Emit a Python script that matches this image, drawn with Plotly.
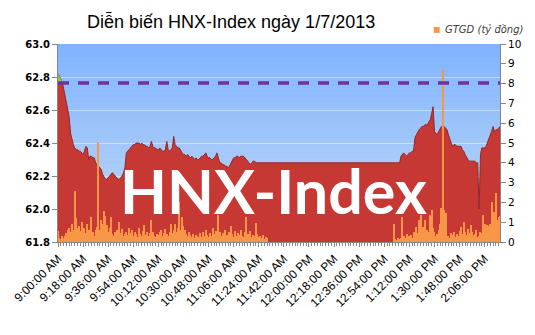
import plotly.graph_objects as go

# ---- data (one value per minute, 9:00 AM -> 2:17 PM) ----
index_values = [
    62.82, 62.80, 62.78, 62.77, 62.73, 62.69, 62.66, 62.61, 62.56, 62.46,
    62.42, 62.39, 62.37, 62.36, 62.36, 62.35, 62.35, 62.34, 62.33, 62.35,
    62.38, 62.37, 62.30, 62.32, 62.32, 62.31, 62.31, 62.28, 62.27, 62.26,
    62.25, 62.24, 62.21, 62.19, 62.18, 62.18, 62.19, 62.20, 62.21, 62.22,
    62.21, 62.20, 62.19, 62.18, 62.18, 62.19, 62.20, 62.22, 62.25, 62.34,
    62.35, 62.36, 62.37, 62.38, 62.39, 62.39, 62.40, 62.40, 62.40, 62.39,
    62.40, 62.39, 62.39, 62.38, 62.38, 62.37, 62.38, 62.41, 62.38, 62.37,
    62.37, 62.36, 62.36, 62.37, 62.36, 62.35, 62.35, 62.36, 62.41, 62.36,
    62.35, 62.36, 62.37, 62.44, 62.39, 62.38, 62.37, 62.37, 62.35, 62.34,
    62.33, 62.33, 62.32, 62.33, 62.32, 62.31, 62.32, 62.31, 62.30, 62.31,
    62.30, 62.30, 62.31, 62.32, 62.32, 62.33, 62.34, 62.32, 62.31, 62.31,
    62.30, 62.30, 62.31, 62.32, 62.34, 62.30, 62.28, 62.28, 62.27, 62.27,
    62.26, 62.26, 62.25, 62.26, 62.28, 62.30, 62.31, 62.31, 62.32, 62.32,
    62.31, 62.32, 62.32, 62.32, 62.31, 62.30, 62.29, 62.28, 62.27, 62.28,
    62.29, 62.29, 62.28, 62.28, 62.28, 62.28, 62.28, 62.28, 62.28, 62.28,
    62.28, 62.28, 62.28, 62.28, 62.28, 62.28, 62.28, 62.28, 62.28, 62.28,
    62.28, 62.28, 62.28, 62.28, 62.28, 62.28, 62.28, 62.28, 62.28, 62.28,
    62.28, 62.28, 62.28, 62.28, 62.28, 62.28, 62.28, 62.28, 62.28, 62.28,
    62.28, 62.28, 62.28, 62.28, 62.28, 62.28, 62.28, 62.28, 62.28, 62.28,
    62.28, 62.28, 62.28, 62.28, 62.28, 62.28, 62.28, 62.28, 62.28, 62.28,
    62.28, 62.28, 62.28, 62.28, 62.28, 62.28, 62.28, 62.28, 62.28, 62.28,
    62.28, 62.28, 62.28, 62.28, 62.28, 62.28, 62.28, 62.28, 62.28, 62.28,
    62.28, 62.28, 62.28, 62.28, 62.28, 62.28, 62.28, 62.28, 62.28, 62.28,
    62.28, 62.28, 62.28, 62.28, 62.28, 62.28, 62.28, 62.28, 62.28, 62.28,
    62.28, 62.28, 62.28, 62.28, 62.28, 62.28, 62.32, 62.33, 62.34, 62.33,
    62.32, 62.33, 62.34, 62.34, 62.35, 62.35, 62.43, 62.45, 62.47, 62.48,
    62.49, 62.50, 62.50, 62.51, 62.51, 62.51, 62.53, 62.54, 62.58, 62.62,
    62.47, 62.46, 62.45, 62.47, 62.49, 62.50, 62.50, 62.50, 62.49, 62.48,
    62.45, 62.42, 62.40, 62.38, 62.39, 62.39, 62.38, 62.38, 62.38, 62.38,
    62.36, 62.35, 62.33, 62.31, 62.30, 62.29, 62.29, 62.29, 62.29, 62.29,
    62.28, 62.28, 62.00, 62.33, 62.37, 62.37, 62.37, 62.38, 62.40, 62.42,
    62.44, 62.47, 62.50, 62.47, 62.48, 62.48, 62.49, 62.50,
]

gtgd_values = [
    0.55, 0.2, 0.15, 0.3, 0.2, 0.3, 0.45, 0.6, 0.7, 0.5,
    0.9, 0.6, 2.6, 1.2, 0.7, 0.8, 0.55, 1.0, 0.6, 0.7,
    0.45, 0.9, 0.6, 0.4, 1.26, 0.5, 0.3, 0.6, 0.75, 5.05,
    0.6, 1.1, 0.9, 1.57, 1.3, 0.85, 0.5, 0.7, 1.26, 0.4,
    0.3, 0.5, 0.6, 0.35, 1.0, 0.45, 0.67, 0.3, 0.4, 0.5,
    0.35, 0.72, 0.45, 0.6, 0.3, 0.5, 0.42, 0.25, 0.7, 0.4,
    0.3, 0.55, 0.85, 0.35, 0.5, 0.3, 0.45, 1.1, 0.5, 0.3,
    0.25, 0.4, 0.35, 0.5, 0.6, 0.3, 0.45, 0.65, 0.4, 0.3,
    0.5, 0.9, 0.45, 0.6, 0.9, 0.5, 0.7, 2.0, 0.6, 1.26,
    0.8, 0.6, 0.4, 0.3, 0.5, 0.33, 0.25, 0.4, 0.2, 0.35,
    0.3, 0.25, 0.45, 0.25, 0.5, 0.3, 0.6, 0.35, 0.25, 0.45,
    0.3, 0.7, 0.4, 0.55, 0.35, 1.36, 0.5, 0.3, 0.45, 0.25,
    0.6, 0.35, 0.3, 0.5, 0.8, 0.4, 0.25, 0.55, 0.3, 0.45,
    0.35, 0.6, 0.3, 0.25, 0.5, 1.28, 0.4, 0.3, 0.55, 0.25,
    0.35, 0.3, 0.95, 0.4, 0.25, 0.3, 0.2, 0.35, 0.15, 0.25,
    0.2, 0, 0, 0, 0, 0, 0, 0, 0, 0,
    0, 0, 0, 0, 0, 0, 0, 0, 0, 0,
    0, 0, 0, 0, 0, 0, 0, 0, 0, 0,
    0, 0, 0, 0, 0, 0, 0, 0, 0, 0,
    0, 0, 0, 0, 0, 0, 0, 0, 0, 0,
    0, 0, 0, 0, 0, 0, 0, 0, 0, 0,
    0, 0, 0, 0, 0, 0, 0, 0, 0, 0,
    0, 0, 0, 0, 0, 0, 0, 0, 0, 0,
    0, 0, 0, 0, 0, 0, 0, 0, 0, 0,
    0, 0.9, 0.15, 0.1, 0.2, 0.15, 0.2, 1.25, 0.3, 0.2,
    0.4, 0.25, 0.3, 0.35, 0.2, 0.5, 0.3, 0.75, 0.45, 1.1,
    1.35, 0.5, 0.75, 1.1, 0.4, 0.6, 0.5, 1.35, 1.6, 0.7,
    0.5, 0.3, 0.4, 0.6, 0.9, 1.7, 8.7, 1.6, 1.45, 0.25,
    0.3, 0.2, 0.45, 0.35, 0.5, 0.25, 0.4, 0.3, 0.55, 0.75,
    0.4, 1.0, 0.5, 0.35, 0.65, 0.45, 0.85, 0.5, 0.35, 0.4,
    0.6, 0.25, 0.3, 0.5, 0.45, 1.35, 0.9, 0.6, 0.85, 0.8,
    0.9, 2.0, 1.2, 1.5, 2.5, 1.1, 1.25, 1.3,
]

minutes = list(range(len(index_values)))  # minutes after 9:00 AM

tick_minutes = [0, 18, 36, 54, 72, 90, 108, 126, 144, 162, 180,
                198, 216, 234, 252, 270, 288, 306]
tick_labels = ["9:00:00 AM", "9:18:00 AM", "9:36:00 AM", "9:54:00 AM",
               "10:12:00 AM", "10:30:00 AM", "10:48:00 AM", "11:06:00 AM",
               "11:24:00 AM", "11:42:00 AM", "12:00:00 PM", "12:18:00 PM",
               "12:36:00 PM", "12:54:00 PM", "1:12:00 PM", "1:30:00 PM",
               "1:48:00 PM", "2:06:00 PM"]

reference_index = 62.764   # dashed reference level
title_text = "Diễn biến HNX-Index ngày 1/7/2013"
legend_text = "GTGD (tỷ đồng)"

# ---- figure ----
fig = go.Figure()

# red area
fig.add_trace(go.Scatter(
    x=minutes, y=index_values, mode="lines", fill="tozeroy",
    fillcolor="rgb(198,56,52)",
    line=dict(color="rgb(150,38,36)", width=1),
    yaxis="y", showlegend=False, hoverinfo="skip"))

# green part above reference
above_x = [m for m, v in zip(minutes, index_values) if v >= reference_index]
above_y = [v for v in index_values if v >= reference_index]
if above_x:
    fig.add_trace(go.Scatter(x=above_x, y=[reference_index] * len(above_x),
                             mode="lines", line=dict(width=0),
                             showlegend=False, hoverinfo="skip"))
    fig.add_trace(go.Scatter(x=above_x, y=above_y, mode="lines",
                             fill="tonexty", fillcolor="rgb(155,200,70)",
                             line=dict(color="rgb(120,160,50)", width=1),
                             showlegend=False, hoverinfo="skip"))

# orange bars
fig.add_trace(go.Bar(
    x=minutes, y=gtgd_values, yaxis="y2", width=0.75,
    marker=dict(color="rgb(247,150,70)", line=dict(width=0)),
    showlegend=False, hoverinfo="skip"))

# gradient background stripes
shapes = []
n = 40
top = (127, 179, 255)
bot = (195, 218, 242)
for k in range(n):
    t = (k + 0.5) / n
    c = tuple(int(round(top[j] + (bot[j] - top[j]) * t)) for j in range(3))
    shapes.append(dict(type="rect", xref="x domain", yref="y domain",
                       x0=0, x1=1, y0=1 - (k + 1) / n, y1=1 - k / n,
                       fillcolor="rgb(%d,%d,%d)" % c, line=dict(width=0),
                       layer="below"))

# dashed reference line
shapes.append(dict(type="line", xref="x domain", yref="y",
                   x0=0, x1=1, y0=reference_index, y1=reference_index,
                   line=dict(color="rgb(112,48,160)", width=3.5,
                             dash="11px,9px")))

# legend marker
shapes.append(dict(type="rect", xref="paper", yref="paper",
                   x0=0.850, x1=0.8635, y0=1.056, y1=1.086,
                   fillcolor="rgb(247,150,70)", line=dict(width=0)))

fig.update_layout(
    width=535, height=335,
    margin=dict(l=53, r=35, t=44, b=93),
    paper_bgcolor="white",
    plot_bgcolor="rgb(160,198,248)",
    shapes=shapes,
    bargap=0,
    annotations=[
        dict(text=title_text, xref="paper", yref="paper",
             x=(228 - 53) / 447, y=(242 - 22) / 198,
             xanchor="center", yanchor="middle", showarrow=False,
             font=dict(family="Liberation Sans, Arial", size=18,
                       color="black")),
        dict(text="<i>" + legend_text + "</i>", xref="paper", yref="paper",
             x=0.871, y=1.071, xanchor="left", yanchor="middle",
             showarrow=False,
             font=dict(family="DejaVu Sans", size=10, color="rgb(60,60,60)")),
        dict(text="<b>HNX-Index</b>", xref="paper", yref="paper",
             x=0.487, y=0.262, xanchor="center", yanchor="middle",
             showarrow=False,
             font=dict(family="Lato", size=61, color="white")),
    ],
    xaxis=dict(range=[0, len(minutes) - 1], tickmode="array",
               tickvals=tick_minutes, ticktext=tick_labels,
               tickangle=-45, ticks="outside", ticklen=4,
               tickcolor="rgb(134,134,134)",
               minor=dict(dtick=2, tick0=0, ticks="outside", ticklen=3,
                          tickcolor="rgb(134,134,134)"),
               showline=True, linecolor="rgb(134,134,134)",
               showgrid=False, zeroline=False,
               tickfont=dict(family="Liberation Sans, Arial", size=12,
                             color="black")),
    yaxis=dict(range=[61.8, 63.0], dtick=0.2, tick0=61.8, tickformat=".1f",
               ticks="outside", ticklen=5, tickcolor="rgb(134,134,134)",
               showline=True, linecolor="rgb(134,134,134)",
               showgrid=True, gridcolor="rgba(255,255,255,0.45)",
               zeroline=False,
               tickfont=dict(family="DejaVu Sans", size=10, color="black",
                             weight="bold")),
    yaxis2=dict(range=[0, 10], dtick=1, overlaying="y", side="right",
                ticks="outside", ticklen=5, tickcolor="rgb(134,134,134)",
                showline=True, linecolor="rgb(134,134,134)",
                showgrid=False, zeroline=False,
                tickfont=dict(family="DejaVu Sans", size=10.5,
                              color="black")),
)

fig.write_html("out.html")
